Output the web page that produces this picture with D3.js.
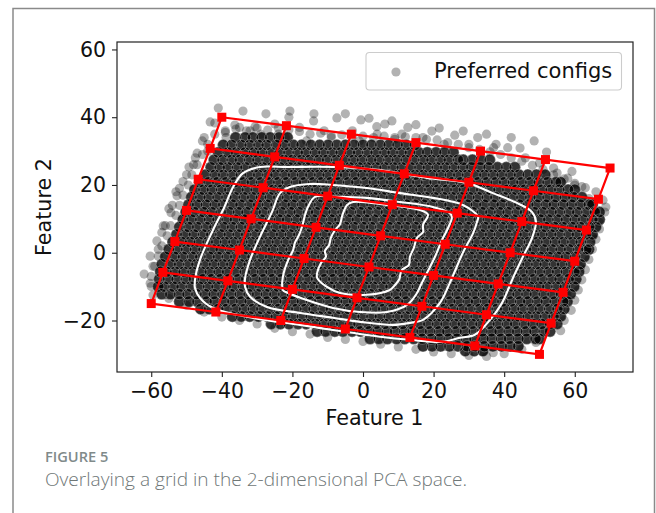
<!DOCTYPE html>
<html>
<head>
<meta charset="utf-8">
<script src="https://cdn.jsdelivr.net/npm/d3@7"></script>
<style>
body { margin: 0; background: #fff; }
text { font-family: "DejaVu Sans", sans-serif; fill: #111; }
</style>
</head>
<body>
<div id="chart"></div>
<script>
var xTicks = [-60, -40, -20, 0, 20, 40, 60];
var yTicks = [-20, 0, 20, 40, 60];

// the dense part of the cloud, one list of x values per row
var cloudRowY = [34, 31.8, 29.6, 27.4, 25.2, 23, 20.8, 18.6, 16.4, 14.2, 12, 9.8, 7.6, 5.4, 3.2, 1, -1.2, -3.4, -5.6, -7.8, -10, -12.2, -14.4, -16.6, -18.8, -21, -23.2, -25.4, -27.6, -29];
var cloudRowX = [
[-36.1,-33.4,-31.2,-28.7,-26.3,-23.8,-21.4],
[-39.6,-37.2,-34.5,-32.1,-29.6,-27.3,-24.6,-22.2,-19.7,-17.4,-14.8,-12.3,-9.9,-7.4,-5,-2.5,0,2.4,4.9,7.3,9.8,12.2,14.7],
[-41,-38.3,-36,-33.4,-30.9,-28.6,-26,-23.6,-21.1,-18.5,-16.2,-13.6,-11.2,-8.7,-6.3,-3.7,-1.4,1.2,3.6,6.1,8.4,10.9,13.3,15.8,18.2,20.7,23.1,25.6],
[-42.2,-39.8,-37.2,-34.9,-32.3,-29.9,-27.3,-25,-22.4,-20,-17.5,-15.1,-12.5,-10.2,-7.6,-5.2,-2.7,-0.3,2.3,4.6,7.2,9.6,12.1,14.5,17.1,19.4,22,24.3,26.9,28.4,31,33.4,35.9],
[-43.1,-40.6,-38.3,-35.7,-33.3,-30.8,-28.4,-25.9,-23.5,-20.9,-18.6,-16,-13.6,-11.1,-8.7,-6.2,-3.8,-1.2,1.1,3.7,6.1,8.6,11,13.5,16,18.4,20.9,23.3,25.8,28.3,30.7,33.2,35.6,38.1,40.6,43],
[-44.6,-42,-39.6,-37,-34.6,-32.1,-29.7,-27.1,-24.8,-22.2,-19.8,-17.3,-14.9,-12.4,-10,-7.4,-5.1,-2.5,-0.1,2.4,4.8,7.3,9.8,12.2,14.8,17.1,19.7,22.1,24.6,27,29.5,32,34.4,36.9,39.3,41.8,44.2,46.7,49.1,51.6],
[-46.3,-43.7,-41.3,-38.8,-36.4,-33.8,-31.5,-28.9,-26.5,-24,-21.6,-19,-16.7,-14.1,-11.7,-9.2,-6.8,-4.2,-1.9,0.7,3.1,5.6,8,10.5,13,15.4,17.9,20.3,22.8,25.3,27.7,30.2,32.6,35.1,37.6,40,42.5,44.9,47.4,49.8,52.3,54.7,56],
[-47.7,-45.2,-42.8,-40.2,-37.9,-35.3,-32.9,-30.4,-28,-25.4,-23.1,-20.5,-18.1,-15.6,-13.2,-10.7,-8.2,-5.8,-3.3,-0.9,1.6,4,6.5,9,11.4,13.9,16.3,18.8,21.2,23.7,26.2,28.6,31.1,33.5,36,38.4,40.9,43.4,45.8,48.3,50.7,53.2,55.6,58.1,60],
[-48.6,-46.1,-43.7,-41.2,-38.7,-36.3,-33.8,-31.4,-28.9,-26.4,-24,-21.5,-19.1,-16.6,-14.1,-11.7,-9.2,-6.8,-4.3,-1.8,0.6,3.1,5.5,8,10.5,12.9,15.4,17.8,20.3,22.8,25.2,27.7,30.1,32.6,35.1,37.5,40,42.4,44.9,47.4,49.8,52.3,54.7,57.2,59.6,62],
[-49.4,-47,-44.5,-42,-39.6,-37,-34.7,-32.1,-29.7,-27.2,-24.8,-22.2,-19.9,-17.3,-14.9,-12.4,-10,-7.4,-5.1,-2.5,-0.1,2.4,4.8,7.4,9.7,12.3,14.7,17.2,19.6,22.2,24.5,27.1,29.5,32,34.4,37,39.3,41.9,44.3,46.8,49.2,51.8,54.1,56.7,59.1,61.6,64,65],
[-50.2,-47.8,-45.2,-42.9,-40.3,-37.9,-35.4,-33,-30.4,-28.1,-25.5,-23.1,-20.6,-18.2,-15.6,-13.3,-10.7,-8.3,-5.8,-3.4,-0.8,1.5,4.1,6.5,9,11.4,14,16.3,18.9,21.3,23.8,26.2,28.8,31.1,33.7,36.1,38.6,41,43.6,45.9,48.5,50.9,53.4,55.8,58.4,60.7,63.3,65.7,67],
[-51,-48.6,-46.1,-43.6,-41.2,-38.6,-36.3,-33.7,-31.3,-28.8,-26.4,-23.8,-21.5,-18.9,-16.5,-14,-11.6,-9,-6.7,-4.1,-1.7,0.8,3.2,5.8,8.1,10.7,13.1,15.6,18,20.6,22.9,25.5,27.9,30.4,32.8,35.4,37.7,40.3,42.7,45.2,47.6,50.2,52.5,55.1,57.5,60,62.4,65,67],
[-52,-49.4,-47,-44.4,-42.1,-39.5,-37.1,-34.6,-32.2,-29.6,-27.3,-24.7,-22.3,-19.8,-17.4,-14.8,-12.5,-9.9,-7.5,-5,-2.6,0,2.3,4.9,7.3,9.8,12.2,14.8,17.1,19.7,22.1,24.6,27,29.6,31.9,34.5,36.9,39.4,41.8,44.4,46.7,49.3,51.7,54.2,56.6,59.2,61.5,64.1,66],
[-52.8,-50.3,-47.9,-45.3,-43,-40.4,-38,-35.5,-33.1,-30.5,-28.2,-25.6,-23.2,-20.7,-18.3,-15.7,-13.4,-10.8,-8.4,-5.9,-3.5,-0.9,1.4,4,6.4,8.9,11.3,13.9,16.2,18.8,21.2,23.7,26.1,28.7,31,33.6,36,38.5,40.9,43.5,45.8,48.4,50.8,53.3,55.7,58.3,60.6,63.2,65],
[-53.9,-51.4,-49,-46.5,-44,-41.6,-39.1,-36.7,-34.2,-31.7,-29.3,-26.8,-24.4,-21.9,-19.4,-17,-14.5,-12.1,-9.6,-7.1,-4.7,-2.2,0.2,2.7,5.2,7.6,10.1,12.5,15,17.5,19.9,22.4,24.8,27.3,29.8,32.2,34.7,37.1,39.6,42.1,44.5,47,49.4,51.9,54.4,56.8,59.3,61.7,64.3],
[-55,-52.6,-50.1,-47.6,-45.2,-42.6,-40.3,-37.7,-35.3,-32.8,-30.4,-27.8,-25.5,-22.9,-20.5,-18,-15.6,-13,-10.7,-8.1,-5.7,-3.2,-0.8,1.8,4.1,6.7,9.1,11.6,14,16.6,18.9,21.5,23.9,26.4,28.8,31.4,33.7,36.3,38.7,41.2,43.6,46.2,48.5,51.1,53.5,56,58.4,61,63.3,64],
[-56,-53.4,-51,-48.4,-46.1,-43.5,-41.1,-38.6,-36.2,-33.6,-31.3,-28.7,-26.3,-23.8,-21.4,-18.8,-16.5,-13.9,-11.5,-9,-6.6,-4,-1.7,0.9,3.3,5.8,8.2,10.8,13.1,15.7,18.1,20.6,23,25.6,27.9,30.5,32.9,35.4,37.8,40.4,42.7,45.3,47.7,50.2,52.6,55.2,57.5,60.1,62.7],
[-57,-54.5,-52.1,-49.5,-47.2,-44.6,-42.2,-39.7,-37.3,-34.7,-32.4,-29.8,-27.4,-24.9,-22.5,-19.9,-17.6,-15,-12.6,-10.1,-7.7,-5.1,-2.8,-0.2,2.2,4.7,7.1,9.7,12,14.6,17,19.5,21.9,24.5,26.8,29.4,31.8,34.3,36.7,39.3,41.6,44.2,46.6,49.1,51.5,54.1,56.4,59,61.6],
[-57.4,-55.7,-53.2,-50.8,-48.3,-45.8,-43.4,-40.9,-38.5,-36,-33.5,-31.1,-28.6,-26.2,-23.7,-21.2,-18.8,-16.3,-13.9,-11.4,-8.9,-6.5,-4,-1.6,0.9,3.4,5.8,8.3,10.7,13.2,15.7,18.1,20.6,23,25.5,28,30.4,32.9,35.3,37.8,40.3,42.7,45.2,47.6,50.1,52.6,55,57.5,59.9,61.2],
[-57.7,-55.2,-52.8,-50.2,-47.9,-45.3,-42.9,-40.4,-38,-35.4,-33.1,-30.5,-28.1,-25.6,-23.2,-20.6,-18.3,-15.7,-13.3,-10.8,-8.4,-5.8,-3.5,-0.9,1.5,4,6.4,9,11.3,13.9,16.3,18.8,21.2,23.8,26.1,28.7,31.1,33.6,36,38.6,40.9,43.5,45.9,48.4,50.8,53.4,55.7,58.3,60.4],
[-58,-56.3,-53.7,-51.4,-48.8,-46.4,-43.9,-41.5,-38.9,-36.6,-34,-31.6,-29.1,-26.7,-24.1,-21.8,-19.2,-16.8,-14.3,-11.9,-9.3,-7,-4.4,-2,0.5,2.9,5.5,7.8,10.4,12.8,15.3,17.7,20.3,22.6,25.2,27.6,30.1,32.5,35.1,37.4,40,42.4,44.9,47.3,49.9,52.2,54.8,57.2,59.8],
[-57,-54.6,-52.1,-49.7,-47.2,-44.7,-42.3,-39.8,-37.4,-34.9,-32.4,-30,-27.5,-25.1,-22.6,-20.1,-17.7,-15.2,-12.8,-10.3,-7.8,-5.4,-2.9,-0.5,2,4.5,6.9,9.4,11.8,14.3,16.8,19.2,21.7,24.1,26.6,29.1,31.5,34,36.4,38.9,41.4,43.8,46.3,48.7,51.2,53.7,56.1,58.8],
[-52,-49.3,-46.9,-44.3,-42,-39.4,-37,-34.5,-32.1,-29.5,-27.2,-24.6,-22.2,-19.7,-17.3,-14.7,-12.4,-9.8,-7.4,-4.9,-2.5,0.1,2.4,5,7.4,9.9,12.3,14.9,17.2,19.8,22.2,24.7,27.1,29.7,32,34.6,37,39.5,41.9,44.5,46.8,49.4,51.8,54.3,56.7,57.9],
[-46,-43.6,-41,-38.7,-36.1,-33.7,-31.2,-28.8,-26.2,-23.9,-21.3,-18.9,-16.4,-14,-11.4,-9.1,-6.5,-4.1,-1.6,0.8,3.4,5.7,8.3,10.7,13.2,15.6,18.2,20.5,23.1,25.5,28,30.4,33,35.3,37.9,40.3,42.8,45.2,47.8,50.1,52.7,55.1,57],
[-37,-34.5,-32.1,-29.6,-27.1,-24.7,-22.2,-19.8,-17.3,-14.8,-12.4,-9.9,-7.5,-5,-2.5,-0.1,2.4,4.8,7.3,9.8,12.2,14.7,17.1,19.6,22.1,24.5,27,29.4,31.9,34.4,36.8,39.3,41.7,44.2,46.7,49.1,51.6,54,56],
[-26,-23.4,-21,-18.4,-16.1,-13.5,-11.1,-8.6,-6.2,-3.6,-1.3,1.3,3.7,6.2,8.6,11.2,13.5,16.1,18.5,21,23.4,26,28.3,30.9,33.3,35.8,38.2,40.8,43.1,45.7,48.1,50.6,53,55],
[-13,-10.6,-8,-5.7,-3.1,-0.7,1.8,4.2,6.8,9.1,11.7,14.1,16.6,19,21.6,23.9,26.5,28.9,31.4,33.8,36.4,38.7,41.3,43.7,46.2,48.6,51.2,53],
[2,4.5,6.9,9.5,11.8,14.4,16.8,19.3,21.7,24.3,26.6,29.2,31.6,34.1,36.5,39.1,41.4,44,46.4,48.9,50],
[17,19.6,22,24.5,26.9,29.5,31.8,34.4,36.8,39.3,41.7,44],
[29,31.5,34]
];

// loose points well away from the cloud
var strayX = [-41,-34,-27.5,-20.7,-21,-13.9,-14,-7.4,-5,-0.6,1.7,8.2,3.9,6.2,15,12.7,21.6,19.5,28.4,26,35,32.5,42,48.5,37.7,44.5,52,59.2,55,62,68.8,-43.3,-42,-36.3,-35,-30.6,-45,-38.8,-47,-49.3,-51,-52.7,-55,-54.4,-56.6,-58.4,-60.3,-62,-60.3,-39,-32,-25,-24,-18,-11,-9,-3,-1,4,9,11,17,23,30,37,41,46,50,54,58,60,64,66.9,65,63.4,61.5,59.6,57.8,55.9,53.9,36.9,34,-45.5,-47.5,-50,-52,-54,-56,-58,-59.5,-29,-22,-16,-44,-48,-53,-57];
var strayY = [42.7,41.8,41,41.8,40,41,38.9,39.8,41,39.2,39.7,38.9,37.2,38,37.8,37,36.8,35.9,35.9,34.7,35,34,34,33,32,30.9,29.7,24,23.5,19.5,13.5,38.6,38.3,37.7,37,37.2,34,34,29.4,25.3,21,16.8,13,11.8,7.9,3.5,-1,-6.3,-9,36,36,38,35,37,36,34,36,33,35,33.5,35,34,32,32,31,31,28,26.5,25,22,20,16,9,4.7,0.3,-4.2,-8,-12.5,-16.9,-21.3,-29.5,-29.3,33,28,23,19,14,8,1,-4,35,34,33,30,26,18,6];

// points hugging the edge of the cloud
var fringeX = [-39,-36,-33,-30,-27,-24,-21,-18,-15,-12,-9,-6,-3,0,3,6,9,12,15,18,21,24,27,30,33,36,39,42,45,48,51,54,57,60,63,66,68,68.5,-42,-44,-45.5,-47,-48.5,-49.5,-51,-52,-53,-54.5,-55.5,-57,-58,-59,-60,-60,-59.5,67,66,65,64,63,62,61,60,59,57,56,-55,-50,-45,-40,-35,-30,-25,-20,-15,-10,-5,0,5,10,15,20,25,30,35,40,45,49];
var fringeY = [35.5,36.5,36,36.8,36.2,36.8,36.3,35.8,35,35.3,34.5,34.8,34.3,34.4,34,34.4,34,34.2,34,33.5,33.3,32.5,32,31,30.5,29.8,29,28,27,25.8,24.6,23,21.8,20.5,19.2,18,15.5,12,35,32,29,26,23,20,17,14,11,8,5,2,-1,-4,-7,-10,-12.5,7,4,1,-2,-5,-8,-11,-14,-17,-20,-23,-13.5,-15.5,-17.5,-19,-20,-21,-22.3,-23.3,-24,-25,-25.6,-26.2,-27,-27.8,-28.5,-29.3,-29.8,-30.3,-30.6,-29.8,-28.5,-26.5];

// grid nodes, top row first
var gridX = [
[-40,-21.7,-3.3,15,33.3,51.7,70],
[-43.3,-25,-6.7,11.7,30,48.3,66.7],
[-46.7,-28.3,-10,8.3,26.7,45,63.3],
[-50,-31.7,-13.3,5,23.3,41.7,60],
[-53.3,-35,-16.7,1.7,20,38.3,56.7],
[-56.7,-38.3,-20,-1.7,16.7,35,53.3],
[-60,-41.7,-23.3,-5,13.3,31.7,50]
];
var gridY = [
[40,37.5,35,32.5,30,27.5,25],
[30.8,28.3,25.8,23.3,20.8,18.3,15.8],
[21.7,19.2,16.7,14.2,11.7,9.2,6.7],
[12.5,10,7.5,5,2.5,0,-2.5],
[3.3,0.8,-1.7,-4.2,-6.7,-9.2,-11.7],
[-5.8,-8.3,-10.8,-13.3,-15.8,-18.3,-20.8],
[-15,-17.5,-20,-22.5,-25,-27.5,-30]
];

// white contours, outer to inner
var contourX = [
[-47.6,-46.2,-42.5,-39.4,-36.8,-34,-29.2,-21.5,-8.5,4.8,18.1,29.5,36.8,43.6,47.9,49,47.9,45.3,42.5,39.4,36,31.7,27.5,22.7,13.3,4.8,-8.5,-17.8,-32.9,-42.5,-46.2,-47.6],
[-33.4,-32,-29.2,-25.8,-23.5,-20.7,-15,-8.5,1.1,10.5,19.8,28.3,32.6,32.3,31.2,28.3,24.6,21.8,17,13.3,8.5,-0.8,-8.5,-17.8,-27.2,-32,-33.4],
[-22.7,-22.7,-21.2,-19.8,-19.3,-18.1,-17.3,-16.4,-15.6,-13.6,-8.5,1.1,10.5,19.8,24.6,25.2,24.1,22.4,20.4,18.1,16.4,15.3,12.5,6.8,-0.8,-8.5,-17.8,-21.2],
[-13,-11.9,-10.5,-10.8,-9.6,-9.1,-7.9,-6.5,-5.9,-4.5,-2.8,6.8,16.1,18.4,17,17,15.3,14.4,13.3,13,11,10.2,9.1,7.6,1.1,-6.5,-10.2,-13]
];
var contourY = [
[-8,-2.1,6.7,13.2,19.4,23.5,25.3,25.3,25.3,24.4,22.1,20.6,17.6,14.7,12,9.1,4.4,-1.2,-7.4,-14.8,-19.8,-24.2,-25.1,-26.3,-25.7,-24.8,-22.8,-21.3,-18.9,-16.3,-13.3,-10.4],
[-7.4,-2.1,4.7,12,17.6,19.4,20.3,20,19.1,17.6,16.2,14.1,10.6,9.1,5.8,0,-8.9,-14.8,-19.8,-20.7,-21.3,-20.4,-19.2,-17.8,-16,-13,-10.1],
[-11,-7.1,-2.1,0.8,2.9,5.3,7.6,11.2,13.5,16.5,16.5,16.2,15,13.5,11.7,10.6,7.3,3.8,-1.2,-6,-9.5,-11.9,-15.4,-17.5,-17.5,-16.3,-13.3,-11.9],
[-6,-3,-1.2,0.5,2.3,4.4,6.7,8.5,10.9,14.1,15,14.1,12.6,11.2,8.2,6.1,4.4,1.4,-1.2,-3.6,-5.1,-8,-9.5,-11,-12.4,-11.9,-10.1,-7.4]
];

var legendLabel = "Preferred configs";
var xLabel = "Feature 1";
var yLabel = "Feature 2";
var figureLabel = "FIGURE 5";
var captionText = "Overlaying a grid in the 2-dimensional PCA space.";

var left = 117, right = 633, top_ = 42, bottom = 372;

var x = d3.scaleLinear().domain([-69.7, 76.5]).range([left, right]);
var y = d3.scaleLinear().domain([-35.2, 62.2]).range([bottom, top_]);

var svg = d3.select('#chart').append('svg')
    .attr('width', 656)
    .attr('height', 513)
    .style('display', 'block');

// slight softening, the reference is a resampled raster
var blur = svg.append('defs').append('filter').attr('id', 'soft')
    .attr('x', '-5%').attr('y', '-5%').attr('width', '110%').attr('height', '110%');
blur.append('feGaussianBlur').attr('stdDeviation', 0.4);

// card border, open at the bottom
svg.append('path')
    .attr('d', 'M13,513V8.5H654.5V513')
    .attr('fill', 'none')
    .attr('stroke', '#8a8a8a')
    .attr('stroke-width', 1.5);

var scatter = svg.append('g').attr('filter', 'url(#soft)');

// loose points and edge points
var strays = strayX.map((d, i) => ({ x: d, y: strayY[i] }))
    .concat(fringeX.map((d, i) => ({ x: d, y: fringeY[i] })));
scatter.append('g').selectAll('circle')
    .data(strays)
    .join('circle')
    .attr('cx', d => x(d.x))
    .attr('cy', d => y(d.y))
    .attr('r', 4.6)
    .attr('fill', '#000')
    .attr('fill-opacity', 0.3);

// dense cloud, fills first and then all the rims so they cross each other
var cloud = [];
cloudRowX.forEach((row, i) => {
    row.forEach(d => cloud.push({ x: d, y: cloudRowY[i] }));
});
scatter.append('g').selectAll('circle')
    .data(cloud)
    .join('circle')
    .attr('cx', d => x(d.x))
    .attr('cy', d => y(d.y))
    .attr('r', 5.8)
    .attr('fill', '#000')
    .attr('fill-opacity', 0.8);
scatter.append('g').selectAll('circle')
    .data(cloud)
    .join('circle')
    .attr('cx', d => x(d.x))
    .attr('cy', d => y(d.y))
    .attr('r', 5.6)
    .attr('fill', 'none')
    .attr('stroke', '#fff')
    .attr('stroke-opacity', 0.38)
    .attr('stroke-width', 0.8);

// contours
var contourLine = d3.line()
    .x(d => x(d.x))
    .y(d => y(d.y))
    .curve(d3.curveCatmullRomClosed.alpha(0.5));
contourX.forEach((xs, k) => {
    svg.append('path')
        .attr('d', contourLine(xs.map((d, i) => ({ x: d, y: contourY[k][i] }))))
        .attr('fill', 'none')
        .attr('stroke', '#fff')
        .attr('stroke-width', 2.1);
});

// grid lines, rows then columns
var gridLine = d3.line().x(d => x(d.x)).y(d => y(d.y));
var nodes = [];
gridX.forEach((row, j) => {
    var pts = row.map((d, i) => ({ x: d, y: gridY[j][i] }));
    nodes = nodes.concat(pts);
    svg.append('path').attr('d', gridLine(pts))
        .attr('fill', 'none').attr('stroke', '#f00').attr('stroke-width', 2.2);
});
gridX[0].forEach((_, i) => {
    var pts = gridX.map((row, j) => ({ x: row[i], y: gridY[j][i] }));
    svg.append('path').attr('d', gridLine(pts))
        .attr('fill', 'none').attr('stroke', '#f00').attr('stroke-width', 2.2);
});
svg.append('g').selectAll('rect')
    .data(nodes)
    .join('rect')
    .attr('x', d => x(d.x) - 4.5)
    .attr('y', d => y(d.y) - 4.5)
    .attr('width', 9)
    .attr('height', 9)
    .attr('fill', '#f00');

// axes
var xAxis = svg.append('g')
    .attr('transform', 'translate(0,' + bottom + ')')
    .call(d3.axisBottom(x).tickValues(xTicks).tickFormat(d => String(d).replace('-', '\u2212')).tickSize(5).tickPadding(6));
var yAxis = svg.append('g')
    .attr('transform', 'translate(' + left + ',0)')
    .call(d3.axisLeft(y).tickValues(yTicks).tickFormat(d => String(d).replace('-', '\u2212')).tickSize(5).tickPadding(6));
[xAxis, yAxis].forEach(a => {
    a.selectAll('text').style('font-family', '"DejaVu Sans"').style('font-size', '20.5px').attr('fill', '#111');
    a.selectAll('line').attr('stroke', '#222').attr('stroke-width', 1.1);
    a.select('.domain').remove();
});
svg.append('rect')
    .attr('x', left).attr('y', top_)
    .attr('width', right - left).attr('height', bottom - top_)
    .attr('fill', 'none').attr('stroke', '#222').attr('stroke-width', 1.2);

svg.append('text').attr('x', 374.5).attr('y', 425)
    .attr('text-anchor', 'middle').style('font-size', '20.7px').text(xLabel);
svg.append('text')
    .attr('transform', 'translate(51,207) rotate(-90)')
    .attr('text-anchor', 'middle').style('font-size', '20.7px').text(yLabel);

// legend
svg.append('rect')
    .attr('x', 366).attr('y', 52.5).attr('width', 255.5).attr('height', 37.5).attr('rx', 3.5)
    .attr('fill', '#fff').attr('fill-opacity', 0.8)
    .attr('stroke', '#ccc').attr('stroke-width', 1.1);
svg.append('circle').attr('cx', 396).attr('cy', 72).attr('r', 4.6)
    .attr('fill', '#000').attr('fill-opacity', 0.3);
svg.append('text').attr('x', 434).attr('y', 78)
    .style('font-size', '21px').text(legendLabel);

// caption
svg.append('text').attr('x', 45).attr('y', 462)
    .style('font-family', '"Open Sans"').style('font-size', '14.6px').style('font-weight', 600).style('fill', '#808a8a')
    .text(figureLabel);
svg.append('text').attr('x', 45).attr('y', 486)
    .style('font-family', '"Open Sans"').style('font-size', '19.1px').style('font-weight', 300).style('fill', '#6f7777')
    .text(captionText);
</script>
</body>
</html>
